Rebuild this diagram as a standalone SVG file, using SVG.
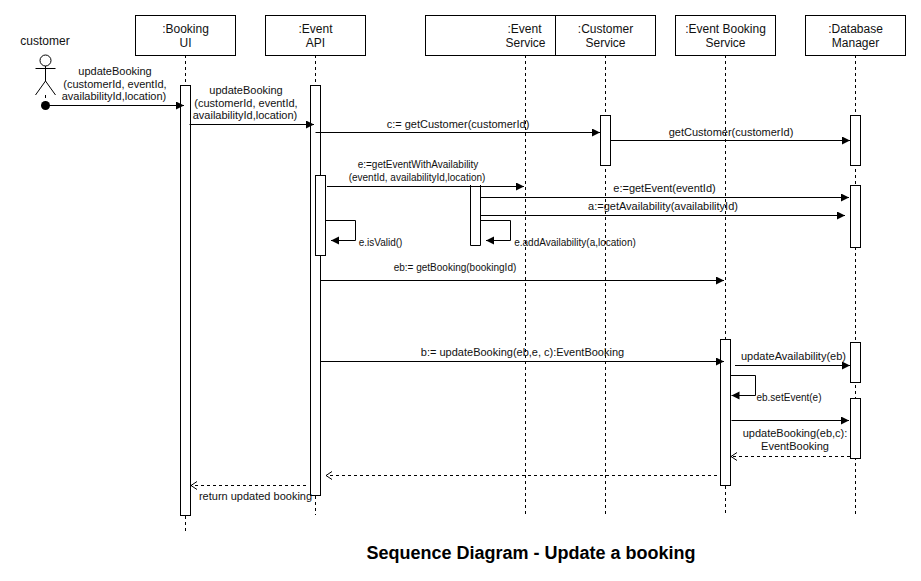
<svg xmlns="http://www.w3.org/2000/svg" width="921" height="581" viewBox="0 0 921 581">
<style>
text{font-family:"Liberation Sans",Arial,sans-serif;font-size:11px;fill:#111;text-anchor:middle}
.n{font-size:12px}
.box{fill:#fff;stroke:#000;stroke-width:1}
.life{stroke:#000;stroke-dasharray:3 3;fill:none}
.msg{stroke:#000;fill:none;marker-end:url(#solid)}
.ret{stroke:#000;fill:none;stroke-dasharray:3 3;marker-end:url(#open)}
</style>
<defs>
<marker id="solid" markerUnits="userSpaceOnUse" markerWidth="9" markerHeight="9" refX="8" refY="4" orient="auto"><path d="M0 0L8 4L0 8Z" fill="#000"/></marker>
<marker id="open" markerUnits="userSpaceOnUse" markerWidth="9" markerHeight="10" refX="7" refY="4.500" orient="auto"><path d="M1 0.500L7 4.500L1 8.500" fill="none" stroke="#000"/></marker>
</defs>
<rect width="921" height="581" fill="#fff"/>
<g id="lifelines">
<path class="life" d="M45.500 95V105M185.500 55V85M185.500 516V532M315.500 55V85M315.500 496V515M525.500 55V515M605.500 55V515M725.500 55V339M725.500 486V515M855.500 55V515"/>
</g>
<g id="customer">
<text x="45" y="45" class="n">customer</text>
<circle cx="45.500" cy="60.500" r="5.500" fill="#fff" stroke="#000"/>
<path d="M45.500 66V81M35.500 68.500H55.500M45.500 81L35.500 95M45.500 81L55.500 95" stroke="#000" fill="none"/>
</g>
<g id="booking-ui"><rect class="box" x="135.500" y="15.500" width="100" height="40"/><text class="n" x="185.500" y="33">:Booking</text><text class="n" x="185.500" y="47">UI</text><rect class="box" x="180.500" y="85.500" width="10" height="430"/></g>
<g id="event-api"><rect class="box" x="265.500" y="15.500" width="100" height="40"/><text class="n" x="315.500" y="33">:Event</text><text class="n" x="315.500" y="47">API</text><rect class="box" x="310.500" y="85.500" width="10" height="410"/><rect class="box" x="315.500" y="175.500" width="10" height="80"/></g>
<g id="event-service"><rect class="box" x="425.500" y="15.500" width="130" height="40"/><text class="n" x="524.500" y="33">:Event</text><text class="n" x="525.500" y="47">Service</text><path d="M470.500 185V245.500H480.500V185" fill="#fff" stroke="#000"/></g>
<g id="customer-service"><rect class="box" x="555.500" y="15.500" width="100" height="40"/><text class="n" x="605.500" y="33">:Customer</text><text class="n" x="605.500" y="47">Service</text><rect class="box" x="600.500" y="115.500" width="10" height="50"/></g>
<g id="event-booking-service"><rect class="box" x="675.500" y="15.500" width="100" height="40"/><text class="n" x="725.500" y="33">:Event Booking</text><text class="n" x="725.500" y="47">Service</text><rect class="box" x="720.500" y="339.500" width="10" height="146"/></g>
<g id="database-manager"><rect class="box" x="805.500" y="15.500" width="100" height="40"/><text class="n" x="855.500" y="33">:Database</text><text class="n" x="855.500" y="47">Manager</text><rect class="box" x="850.500" y="115.500" width="10" height="50"/><rect class="box" x="850.500" y="185.500" width="10" height="62"/><rect class="box" x="850.500" y="342.500" width="10" height="40"/><rect class="box" x="850.500" y="398.500" width="10" height="60"/></g>
<g id="connectors">
<circle cx="45.500" cy="105.500" r="4.500" fill="#000"/>
<path class="msg" d="M45.500 105.500H184"/>
<path class="msg" d="M189.500 124.500H314"/>
<path class="msg" d="M315.500 132.500H600"/>
<path class="msg" d="M610.500 140.500H850"/>
<path class="msg" d="M327 186.500H524"/>
<path class="msg" d="M480 197.500H849"/>
<path class="msg" d="M481 215.500H845"/>
<path class="msg" d="M325.500 220.500H355.500V240.500H331"/>
<path class="msg" d="M481 220.500H510.500V240.500H486"/>
<path class="msg" d="M320.500 280.500H724"/>
<path class="msg" d="M320.500 361.500H724"/>
<path class="msg" d="M735 365.500H850"/>
<path class="msg" d="M730.500 375.500H755.500V395.500H731.500"/>
<path class="msg" d="M731.500 420.500H849"/>
<path class="ret" d="M850 456.500H731"/>
<path class="ret" d="M717 475.500H326"/>
<path class="ret" d="M306 485.500H191"/>
</g>
<g id="labels">
<text x="115" y="75">updateBooking</text><text x="115" y="88">(customerId, eventId,</text><text x="114" y="100">availabilityId,location)</text>
<text x="246" y="94">updateBooking</text><text x="246" y="107">(customerId, eventId,</text><text x="245" y="119">availabilityId,location)</text>
<text x="458" y="128">c:= getCustomer(customerId)</text>
<text x="731" y="136">getCustomer(customerId)</text>
<text x="418" y="168" style="font-size:10px">e:=getEventWithAvailability</text><text x="417" y="181" style="font-size:10px">(eventId, availabilityId,location)</text>
<text x="664.500" y="192">e:=getEvent(eventId)</text>
<text x="663" y="210">a:=getAvailability(availabilityId)</text>
<text x="380.500" y="246" style="font-size:10px">e.isValid()</text>
<text x="575" y="246" style="font-size:10px">e.addAvailability(a,location)</text>
<text x="455" y="271" style="font-size:10px">eb:= getBooking(bookingId)</text>
<text x="522.500" y="356">b:= updateBooking(eb,e, c):EventBooking</text>
<text x="793.500" y="360">updateAvailability(eb)</text>
<text x="789" y="401" style="font-size:10px">eb.setEvent(e)</text>
<text x="795" y="437">updateBooking(eb,c):</text><text x="795" y="450">EventBooking</text>
<text x="255.500" y="500">return updated booking</text>
<text x="531" y="559" style="font-size:18px;font-weight:bold;fill:#000">Sequence Diagram - Update a booking</text>
</g>
</svg>
